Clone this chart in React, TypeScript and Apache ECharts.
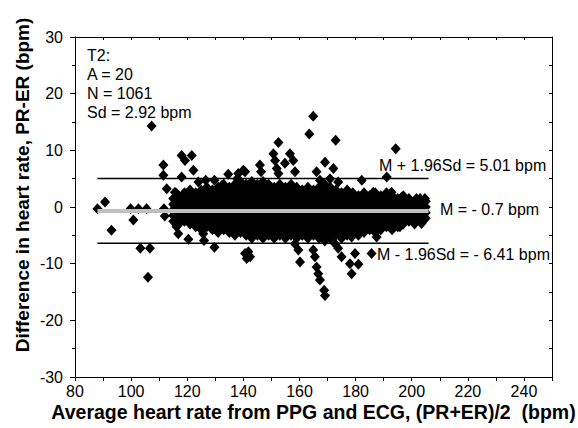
import React, { useEffect, useRef } from "react";
import * as echarts from "echarts";

// Dense band: x columns (average HR) and their differences
const bandX = [115, 117, 119, 121, 123, 125, 127, 129, 131, 133, 135, 137, 139, 141, 143, 145, 147, 149, 151, 153, 155, 157, 159, 161, 163, 165, 167, 169, 171, 173, 175, 177, 179, 181, 183, 185, 187, 189, 191, 193, 195, 197, 199, 201, 203, 205];
const bandY: number[][] = [
  [-2.5, -1.5, -0.5, 0.5, 1.5],
  [-3, -2, -1, 0, 1, 2],
  [-2.5, -1.5, -0.5, 0.5, 1.5, 2.5],
  [-3, -2, -1, 0, 1, 2, 3],
  [-3.5, -2.5, -1.5, -0.5, 0.5, 1.5, 2.5],
  [-4, -3, -2, -1, 0, 1, 2, 3],
  [-3.5, -2.5, -1.5, -0.5, 0.5, 1.5, 2.5, 3.5],
  [-4, -3, -2, -1, 0, 1, 2, 3],
  [-4.5, -3.5, -2.5, -1.5, -0.5, 0.5, 1.5, 2.5, 3.5],
  [-4, -3, -2, -1, 0, 1, 2, 3, 4],
  [-4.5, -3.5, -2.5, -1.5, -0.5, 0.5, 1.5, 2.5, 3.5],
  [-5, -4, -3, -2, -1, 0, 1, 2, 3, 4],
  [-4.5, -3.5, -2.5, -1.5, -0.5, 0.5, 1.5, 2.5, 3.5, 4.5],
  [-5, -4, -3, -2, -1, 0, 1, 2, 3, 4],
  [-5.5, -4.5, -3.5, -2.5, -1.5, -0.5, 0.5, 1.5, 2.5, 3.5, 4.5],
  [-5, -4, -3, -2, -1, 0, 1, 2, 3, 4],
  [-5.5, -4.5, -3.5, -2.5, -1.5, -0.5, 0.5, 1.5, 2.5, 3.5, 4.5],
  [-5, -4, -3, -2, -1, 0, 1, 2, 3, 4],
  [-5.5, -4.5, -3.5, -2.5, -1.5, -0.5, 0.5, 1.5, 2.5, 3.5],
  [-5, -4, -3, -2, -1, 0, 1, 2, 3, 4],
  [-5.5, -4.5, -3.5, -2.5, -1.5, -0.5, 0.5, 1.5, 2.5, 3.5],
  [-5, -4, -3, -2, -1, 0, 1, 2, 3, 4],
  [-5.5, -4.5, -3.5, -2.5, -1.5, -0.5, 0.5, 1.5, 2.5, 3.5],
  [-5, -4, -3, -2, -1, 0, 1, 2, 3],
  [-5.5, -4.5, -3.5, -2.5, -1.5, -0.5, 0.5, 1.5, 2.5, 3.5],
  [-5, -4, -3, -2, -1, 0, 1, 2, 3],
  [-5.5, -4.5, -3.5, -2.5, -1.5, -0.5, 0.5, 1.5, 2.5, 3.5],
  [-6, -5, -4, -3, -2, -1, 0, 1, 2, 3, 4],
  [-5.5, -4.5, -3.5, -2.5, -1.5, -0.5, 0.5, 1.5, 2.5, 3.5],
  [-5, -4, -3, -2, -1, 0, 1, 2, 3],
  [-5.5, -4.5, -3.5, -2.5, -1.5, -0.5, 0.5, 1.5, 2.5],
  [-5, -4, -3, -2, -1, 0, 1, 2, 3],
  [-4.5, -3.5, -2.5, -1.5, -0.5, 0.5, 1.5, 2.5],
  [-5, -4, -3, -2, -1, 0, 1, 2],
  [-4.5, -3.5, -2.5, -1.5, -0.5, 0.5, 1.5, 2.5],
  [-4, -3, -2, -1, 0, 1, 2],
  [-4.5, -3.5, -2.5, -1.5, -0.5, 0.5, 1.5, 2.5],
  [-4, -3, -2, -1, 0, 1, 2],
  [-3.5, -2.5, -1.5, -0.5, 0.5, 1.5, 2.5],
  [-4, -3, -2, -1, 0, 1, 2],
  [-3.5, -2.5, -1.5, -0.5, 0.5, 1.5],
  [-3, -2, -1, 0, 1, 2],
  [-2.5, -1.5, -0.5, 0.5, 1.5],
  [-3, -2, -1, 0, 1],
  [-2.5, -1.5, -0.5, 0.5, 1.5],
  [-2, -1, 0, 1],
];

// Scattered points outside the dense band
const outliers: number[][] = [
  [88, -0.3], [90.7, 0.9], [93, -4.1], [99.8, -0.3], [100.8, -2.3], [102.6, -0.3],
  [103.3, -7.3], [105.5, -0.3], [106, -12.4], [106.7, -7.3], [107.3, 14.3],
  [111.5, 7.4], [111.5, 5.6], [111.7, -0.3], [112, -1.6], [112.7, 3.2], [115.6, 2.6],
  [116.2, 2.4], [119.8, 2.4], [116.2, -3.5], [116.8, -4.7], [118, 5.3], [118, 9.1],
  [119.2, 8.2], [120.4, -5.7], [121.6, 9.1], [122.2, 6.5], [124, 4.4], [125.7, -4.7],
  [126, -5.9], [126.6, 4.7], [129.7, 4.7], [129.7, -7.1], [132.3, 3.8], [134.6, 5.8],
  [137.8, 5.0], [138.2, 5.9], [140, 6.5], [140.6, 6.2], [140.6, -8.2], [141.2, -9.1],
  [141.8, -7.9], [142.4, -8.8], [145.9, 7.4], [146.3, 6.2], [150.7, 9.4], [151.3, 8.2],
  [151.9, 6.8], [152.5, 11.4], [152.5, 5.9], [154.8, 7.7], [156.6, 9.4], [157.8, 8.2],
  [158.4, 6.2], [158.4, -6.5], [159.6, -7.6], [160.2, -9.7], [163.5, 12.9], [164.9, 16.0],
  [164.9, -7.6], [165.5, -8.8], [166.1, 6.2], [166.1, -10.6], [166.7, -11.8], [167.3, 4.7],
  [167.3, -12.9], [168.8, -14.7], [169.1, 7.9], [169.1, -15.6], [170.9, 5.0], [172.1, 6.8],
  [172.7, -6.5], [172.9, 11.8], [173.8, 4.4], [173.8, -7.3], [175, -8.8], [178, -10],
  [178.6, -11.8], [178.6, -5.3], [179.8, -8.2], [181, -10.1], [182.2, 4.7], [185.7, -8.2],
  [186.3, 2.6], [187.5, -5.3], [191.1, 5.3], [192.8, 2.6], [194.3, 10.3], [195.8, -3.5],
  [196.4, 1.7], [201.7, 1.5], [204.7, 1.5], [203.5, -2.9],
];

const upperLoA = 5.01;
const meanDiff = -0.7;
const lowerLoA = -6.41;
const lineX = [88, 206];

const statsText = ["T2:", "A = 20", "N = 1061", "Sd = 2.92 bpm"];
const upperLabel = "M + 1.96Sd = 5.01 bpm";
const meanLabel = "M = - 0.7 bpm";
const lowerLabel = "M - 1.96Sd = - 6.41 bpm";
const xTitle = "Average heart rate from PPG and ECG, (PR+ER)/2  (bpm)";
const yTitle = "Difference in heart rate, PR-ER (bpm)";

const FONT = "'Liberation Sans', Arial, Helvetica, sans-serif";

export default function App() {
  const ref = useRef<HTMLDivElement>(null);
  useEffect(() => {
    if (!ref.current) return;
    const chart = echarts.init(ref.current, undefined, { renderer: "svg" });
    const points: number[][] = [];
    bandX.forEach((x, i) => bandY[i].forEach((y) => points.push([x, y])));
    outliers.forEach((p) => points.push(p));

    const axisLine = { show: true, onZero: false, lineStyle: { color: "#000", width: 1 } };
    const txt = (text: string, x: number, y: number, extra: any = {}) => ({
      type: "text",
      x,
      y,
      z: 100,
      style: {
        text,
        fill: "#000",
        font: `16px ${FONT}`,
        verticalAlign: "middle",
        align: "left",
        ...extra,
      },
    });

    chart.setOption({
      animation: false,
      backgroundColor: "#fff",
      grid: { left: 75, right: 26, top: 37, bottom: 51, containLabel: false },
      xAxis: [
        {
          type: "value",
          min: 80,
          max: 250,
          interval: 10,
          position: "bottom",
          axisLine,
          axisTick: { show: true, length: 4, inside: false, lineStyle: { color: "#000" } },
          axisLabel: {
            color: "#000",
            fontSize: 16,
            fontFamily: FONT,
            margin: 6,
            lineHeight: 16,
            formatter: (v: number) => ((v - 80) % 20 === 0 && v <= 240 ? String(v) : ""),
          },
          splitLine: { show: false },
        },
        {
          type: "value",
          min: 80,
          max: 250,
          interval: 10,
          position: "top",
          axisLine,
          axisTick: { show: true, length: 3, inside: true, lineStyle: { color: "#000" } },
          axisLabel: { show: false },
          splitLine: { show: false },
        },
      ],
      yAxis: [
        {
          type: "value",
          min: -30,
          max: 30,
          interval: 10,
          position: "left",
          axisLine,
          axisTick: { show: true, length: 5, lineStyle: { color: "#000" } },
          minorTick: { show: true, splitNumber: 2, length: 3, lineStyle: { color: "#000" } },
          axisLabel: { color: "#000", fontSize: 16, fontFamily: FONT, margin: 12 },
          splitLine: { show: false },
        },
        {
          type: "value",
          min: -30,
          max: 30,
          interval: 5,
          position: "right",
          axisLine,
          axisTick: { show: true, length: 3, inside: true, lineStyle: { color: "#000" } },
          axisLabel: { show: false },
          splitLine: { show: false },
        },
      ],
      series: [
        {
          type: "scatter",
          data: points,
          symbol: "diamond",
          symbolSize: [10, 11],
          itemStyle: { color: "#000", opacity: 1 },
          z: 2,
        },
        {
          type: "line",
          data: lineX.map((x) => [x, upperLoA]),
          symbol: "none",
          lineStyle: { color: "#000", width: 1.5 },
          z: 4,
        },
        {
          type: "line",
          data: lineX.map((x) => [x, meanDiff]),
          symbol: "none",
          lineStyle: { color: "#c0c0c0", width: 4 },
          z: 4,
        },
        {
          type: "line",
          data: lineX.map((x) => [x, lowerLoA]),
          symbol: "none",
          lineStyle: { color: "#000", width: 1.5 },
          z: 4,
        },
      ],
      graphic: [
        ...statsText.map((t, i) => txt(t, 87, 55 + i * 19)),
        txt(upperLabel, 379, 165),
        txt(meanLabel, 440, 209),
        txt(lowerLabel, 377, 254),
        txt(xTitle, 313.5, 412, { font: `bold 19.5px ${FONT}`, align: "center", lineHeight: 20 }),
        {
          type: "text",
          x: 22,
          y: 185,
          rotation: Math.PI / 2,
          z: 100,
          style: {
            text: yTitle,
            fill: "#000",
            font: `bold 19px ${FONT}`,
            align: "center",
            verticalAlign: "middle",
          },
        },
      ],
    });
    return () => chart.dispose();
  }, []);
  return (
    <div
      ref={ref}
      style={{ position: "fixed", left: 0, top: 0, width: 578, height: 428, background: "#fff" }}
    />
  );
}
